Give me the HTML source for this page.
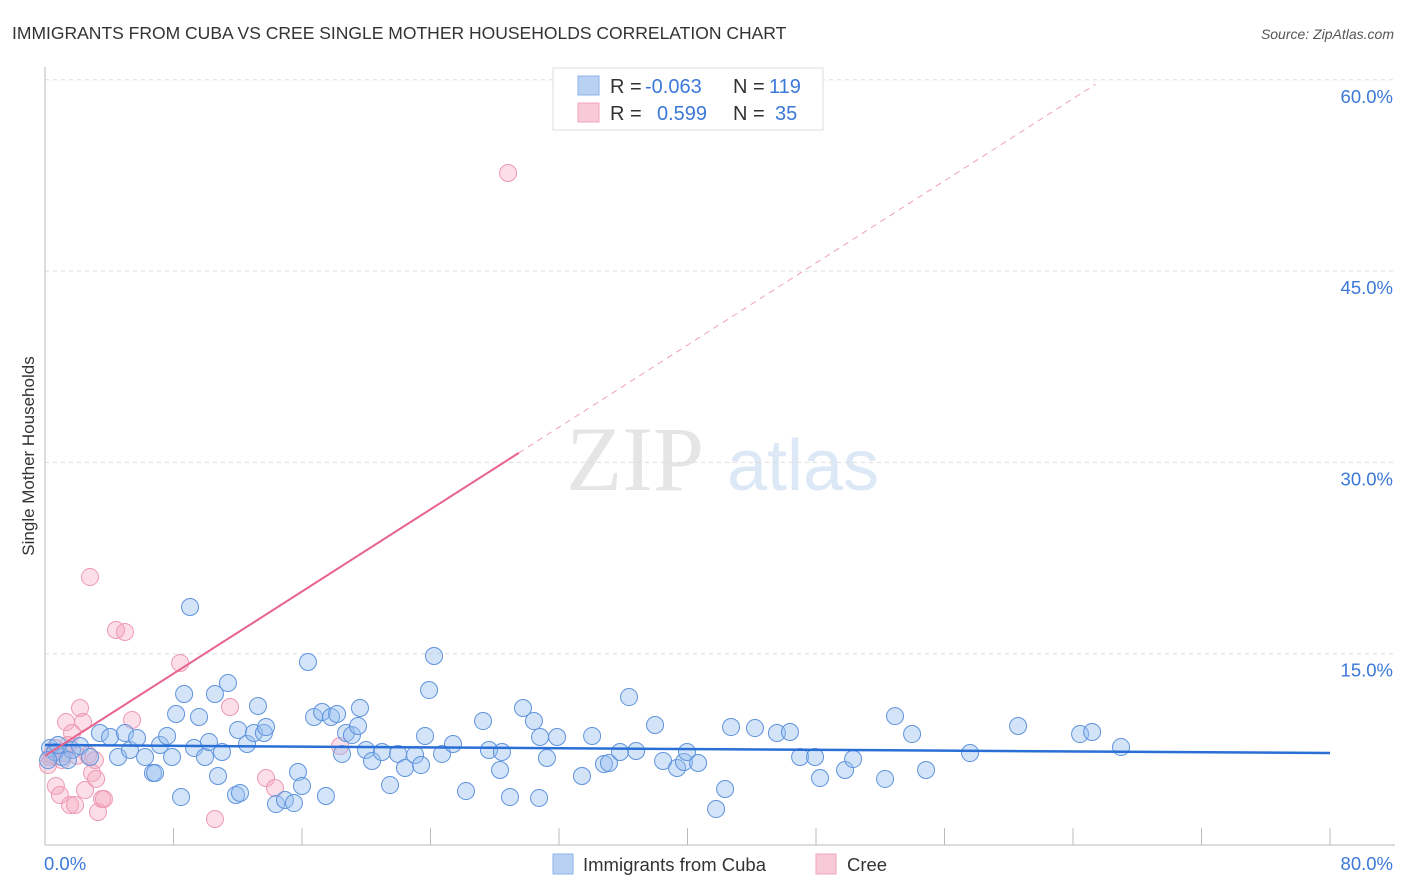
<!DOCTYPE html>
<html><head><meta charset="utf-8"><style>
body{margin:0;background:#fff;font-family:"Liberation Sans",sans-serif;}
svg{display:block}
</style></head><body>
<svg id="chart" width="1406" height="892" xmlns="http://www.w3.org/2000/svg" font-family="Liberation Sans, sans-serif">
<text x="12" y="39" font-size="17.5" fill="#333">IMMIGRANTS FROM CUBA VS CREE SINGLE MOTHER HOUSEHOLDS CORRELATION CHART</text>
<text x="1394" y="39" font-size="14" fill="#555" font-style="italic" text-anchor="end">Source: ZipAtlas.com</text>
<text transform="translate(34,456) rotate(-90)" font-size="17" fill="#333" text-anchor="middle">Single Mother Households</text>
<g opacity="0.25">
<text x="635" y="490" font-size="92" font-family="Liberation Serif, serif" fill="#999" text-anchor="middle">ZIP</text>
<text x="803" y="490" font-size="72" fill="#7aa6e0" text-anchor="middle">atlas</text>
</g>
<g id="grid"></g><g id="axes"></g><g id="marks"></g>
<g>
<rect x="553" y="68" width="270" height="62" fill="#fff" stroke="#ddd"/>
<rect x="578" y="76" width="21" height="19" fill="#b9d2f3" stroke="#8db3e8"/>
<rect x="578" y="103" width="21" height="19" fill="#f8c9d6" stroke="#f0a5bb"/>
<text x="610" y="93" font-size="20" fill="#333">R = </text><text x="645" y="93" font-size="20" fill="#3b78d8">-0.063</text>
<text x="733" y="93" font-size="20" fill="#333">N = </text><text x="769" y="93" font-size="20" fill="#3b78d8">119</text>
<text x="610" y="120" font-size="20" fill="#333">R = </text><text x="657" y="120" font-size="20" fill="#3b78d8">0.599</text>
<text x="733" y="120" font-size="20" fill="#333">N = </text><text x="775" y="120" font-size="20" fill="#3b78d8">35</text>
</g>
<g>
<rect x="553" y="854" width="20" height="20" fill="#b9d2f3" stroke="#8db3e8"/>
<text x="583" y="871" font-size="18.5" fill="#333">Immigrants from Cuba</text>
<rect x="816" y="854" width="20" height="20" fill="#f8c9d6" stroke="#f0a5bb"/>
<text x="847" y="871" font-size="18.5" fill="#333">Cree</text>
</g>
</svg>
<script>
const yTicks=[15,30,45,60];
const yTickLabels=["15.0%","30.0%","45.0%","60.0%"];
const xTickLabels=["0.0%","80.0%"];
const cubaX=[0.31,0.62,1.06,1.68,2.18,2.80,3.42,4.05,4.55,4.98,5.29,5.73,6.23,6.72,6.85,7.16,7.60,7.91,8.16,8.47,8.66,9.03,9.28,9.59,9.96,10.21,10.58,10.77,11.02,11.39,11.89,12.14,12.02,12.58,13.01,13.26,13.63,13.76,14.38,14.94,15.50,15.75,16.00,16.37,16.75,17.25,17.49,17.81,18.18,18.49,18.74,19.11,19.61,19.49,19.99,20.36,20.98,21.48,21.98,22.41,23.04,23.41,23.66,23.91,24.22,24.72,25.40,26.21,27.27,27.64,28.45,28.33,28.95,29.76,30.44,30.76,30.82,31.25,31.88,33.43,34.06,34.80,35.11,35.80,36.36,36.80,37.98,38.48,39.35,39.78,39.97,40.66,41.78,42.34,42.71,44.20,45.57,46.38,47.01,47.94,48.25,49.81,50.31,52.30,52.92,53.98,54.85,57.59,60.58,64.44,65.19,66.99,0.19,0.81,1.43];
const cubaY=[7.61,7.29,6.9,7.45,7.76,6.9,8.78,8.47,6.9,8.78,7.45,8.39,6.9,5.65,5.65,7.84,8.55,6.9,10.27,3.76,11.84,18.66,7.61,10.04,6.9,8.08,11.84,5.41,7.29,12.70,3.92,4.08,9.02,7.92,8.78,10.9,8.78,9.25,3.21,3.53,3.29,5.72,4.63,14.35,10.04,10.43,3.84,10.04,10.27,7.14,8.78,8.62,10.74,9.33,7.45,6.59,7.29,4.70,7.14,6.04,7.06,6.27,8.55,12.15,14.82,7.14,7.92,4.23,9.72,7.45,7.29,5.88,3.76,10.74,9.72,3.69,8.47,6.82,8.47,5.41,8.55,6.35,6.43,7.29,11.6,7.37,9.41,6.59,6.04,6.51,7.29,6.43,2.82,4.39,9.25,9.17,8.78,8.86,6.9,6.9,5.25,5.88,6.74,5.18,10.11,8.70,5.88,7.21,9.33,8.70,8.86,7.68,6.66,7.84,6.66];
const creeX=[0.19,0.44,0.62,1.06,1.43,1.31,1.68,2.18,2.37,2.49,2.68,2.80,2.93,3.18,3.30,3.55,3.67,4.42,4.98,5.42,8.41,10.58,11.52,13.76,14.32,18.37,28.83,0.68,0.93,1.56,1.87,3.11,0.3,1.2,2.0];
const creeY=[6.27,7.06,7.61,6.66,7.84,9.64,8.78,10.74,9.64,4.31,7.06,21.01,5.65,5.18,2.59,3.61,3.61,16.86,16.70,9.80,14.27,2.04,10.82,5.25,4.47,7.76,52.69,4.63,3.92,3.14,3.14,6.66,6.9,7.2,7.0];
const cubaTrend=[7.84,7.21];
const creeTrendIntercept=7.0, creeTrendSlope=0.805, creeSolidEnd=29.5, creeDashEnd=65.4;

const X0=45,X1=1330,Y0=845,PXY=191.3/15;
const sx=v=>X0+v*(X1-X0)/80, sy=v=>Y0-v*PXY;
const NS="http://www.w3.org/2000/svg";
function mk(tag,parent,attrs){const e=document.createElementNS(NS,tag);for(const k in attrs)e.setAttribute(k,attrs[k]);parent.appendChild(e);return e;}
const grid=document.getElementById('grid'),axes=document.getElementById('axes'),marks=document.getElementById('marks');
yTicks.forEach((t,i)=>{
  const l=mk('line',grid,{x1:X0,x2:1395,y1:sy(t),y2:sy(t),stroke:'#ddd','stroke-dasharray':'4,4'});
  
  
  const tx=mk('text',axes,{x:1393,y:sy(t)+23,'font-size':18.5,fill:'#3b78d8','text-anchor':'end'});
  tx.textContent=yTickLabels[i];
  
  
});
const ya=mk('line',axes,{x1:X0,x2:X0,y1:67,y2:Y0,stroke:'#bbb'});


const xa=mk('line',axes,{x1:X0,x2:1395,y1:Y0,y2:Y0,stroke:'#bbb'});


for(let v=8;v<=80;v+=8){
  const tk=mk('line',axes,{x1:sx(v),x2:sx(v),y1:828,y2:Y0,stroke:'#bbb'});
  
  
}
[[0,'start',44],[80,'end',1393]].forEach((d,i)=>{
  const tx=mk('text',axes,{x:d[2],y:870,'font-size':18.5,fill:'#3b78d8','text-anchor':d[1]});
  tx.textContent=xTickLabels[i];
  
  
});
creeX.forEach((x,i)=>{
  const c=mk('circle',marks,{cx:sx(x),cy:sy(creeY[i]),r:8.5,fill:'rgba(244,160,185,0.35)',stroke:'#ee9ab3','stroke-width':1});
  
  
});
cubaX.forEach((x,i)=>{
  const c=mk('circle',marks,{cx:sx(x),cy:sy(cubaY[i]),r:8.5,fill:'rgba(150,190,240,0.42)',stroke:'#5f93dc','stroke-width':1});
  
  
});
const bt=mk('line',marks,{x1:sx(0),y1:sy(cubaTrend[0]),x2:sx(80),y2:sy(cubaTrend[1]),stroke:'#2a6fd6','stroke-width':2.5});


const cy=x=>creeTrendIntercept+creeTrendSlope*x;
const pt=mk('line',marks,{x1:sx(0),y1:sy(cy(0)),x2:sx(creeSolidEnd),y2:sy(cy(creeSolidEnd)),stroke:'#e8638c','stroke-width':2});


const pd=mk('line',marks,{x1:sx(creeSolidEnd),y1:sy(cy(creeSolidEnd)),x2:sx(creeDashEnd),y2:sy(cy(creeDashEnd)),stroke:'#f0a0b8','stroke-width':1,'stroke-dasharray':'6,5'});


</script>
</body></html>
